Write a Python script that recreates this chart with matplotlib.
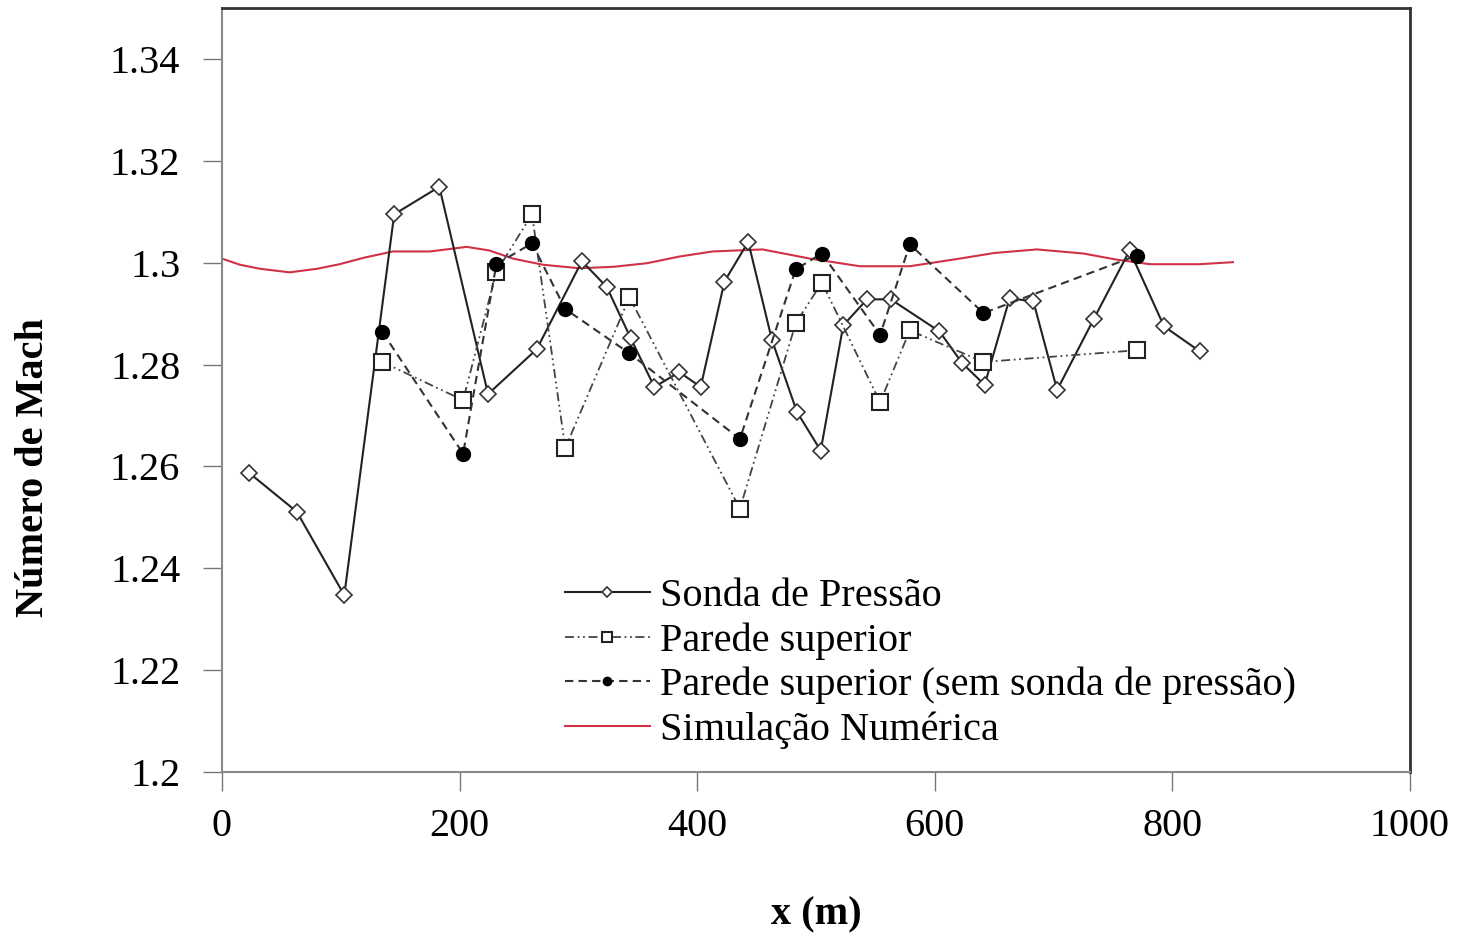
import matplotlib.pyplot as plt
import matplotlib.ticker as ticker

plt.rcParams['font.family'] = ['Liberation Serif', 'DejaVu Serif']

# --- data

sonda_x = [23, 63, 103, 145, 183, 224, 265, 303, 324, 344, 364, 385, 403, 423, 443, 463,
           484, 504, 523, 543, 563, 604, 623, 642, 663, 683, 703, 734, 764, 793, 823]
sonda_y = [1.2587, 1.2511, 1.2347, 1.3095, 1.3149, 1.2742, 1.2830, 1.3003, 1.2952, 1.2852,
           1.2756, 1.2785, 1.2756, 1.2963, 1.3041, 1.2848, 1.2707, 1.2631, 1.2877, 1.2928,
           1.2928, 1.2865, 1.2803, 1.2760, 1.2930, 1.2924, 1.2750, 1.2890, 1.3024, 1.2875, 1.2826]

parede_x = [135, 203, 231, 261, 289, 343, 436, 483, 505, 554, 579, 641, 770]
parede_y = [1.2805, 1.2730, 1.2982, 1.3095, 1.2636, 1.2932, 1.2517, 1.2881, 1.2961,
            1.2726, 1.2867, 1.2805, 1.2828]

sem_sonda_x = [135, 203, 231, 261, 289, 343, 436, 483, 505, 554, 579, 641, 770]
sem_sonda_y = [1.2864, 1.2625, 1.2997, 1.3038, 1.2909, 1.2822, 1.2654, 1.2987, 1.3018,
               1.2858, 1.3036, 1.2901, 1.3014]

sim_x = [0, 15, 32, 57, 80, 99, 120, 144, 175, 206, 225, 245, 270, 301, 330, 358, 385,
         413, 455, 495, 537, 579, 621, 650, 686, 725, 753, 781, 823, 851]
sim_y = [1.3008, 1.2996, 1.2988, 1.2981, 1.2988, 1.2997, 1.3010, 1.3022, 1.3022, 1.3031,
         1.3024, 1.3008, 1.2996, 1.2989, 1.2992, 1.2999, 1.3012, 1.3022, 1.3026, 1.3008,
         1.2993, 1.2993, 1.3008, 1.3019, 1.3026, 1.3018, 1.3006, 1.2997, 1.2997, 1.3001]

# --- plot

fig = plt.figure(figsize=(14.62, 9.33), dpi=100)
ax = fig.add_axes([0.1518, 0.1726, 0.8126, 0.8188])

ax.plot(sonda_x, sonda_y, color="#222222", lw=1.5, marker="D", markersize=8,
        markerfacecolor="white", markeredgecolor="#333333", markeredgewidth=1.2,
        label="Sonda de Pressão", zorder=3)
ax.plot(parede_x, parede_y, color="#444444", lw=1.3, ls=(0, (5, 2, 1, 2, 1, 2)),
        marker="s", markersize=11, markerfacecolor="white", markeredgecolor="#222222",
        markeredgewidth=1.5, label="Parede superior", zorder=4)
ax.plot(sem_sonda_x, sem_sonda_y, color="#333333", lw=1.5, ls=(0, (4, 2.5)),
        marker="o", markersize=10, markerfacecolor="black", markeredgecolor="black",
        label="Parede superior (sem sonda de pressão)", zorder=5)
ax.plot(sim_x, sim_y, color="#cf3246", lw=1.5, label="Simulação Numérica", zorder=2)

ax.set_xlim(0, 1000)
ax.set_ylim(1.2, 1.35)
ax.xaxis.set_major_locator(ticker.MultipleLocator(200))
ax.set_yticks([1.2, 1.22, 1.24, 1.26, 1.28, 1.3, 1.32, 1.34])
ax.yaxis.set_major_formatter(ticker.FuncFormatter(lambda v, p: f"{v:.2f}".rstrip("0")))

ax.tick_params(direction="out", length=14, width=1, color="#777777", labelsize=29)
ax.tick_params(axis="x", pad=12)
ax.tick_params(axis="y", pad=16)
for side in ["left", "bottom"]:
    ax.spines[side].set_color("#888888")
    ax.spines[side].set_linewidth(1.5)
for side in ["top", "right"]:
    ax.spines[side].set_color("#333333")
    ax.spines[side].set_linewidth(2)

ax.set_xlabel("x (m)", fontsize=29, fontweight="bold")
ax.xaxis.set_label_coords(0.5, -0.163)
ax.set_ylabel("Número de Mach", fontsize=29, fontweight="bold")
ax.yaxis.set_label_coords(-0.143, 0.398)

ax.legend(loc="lower left", bbox_to_anchor=(0.265, -0.007), frameon=False,
          fontsize=29, handlelength=2.1, handletextpad=0.25, labelspacing=0.18,
          borderpad=0.2, markerscale=0.6)

plt.savefig("out.png", dpi=100, facecolor="white")
